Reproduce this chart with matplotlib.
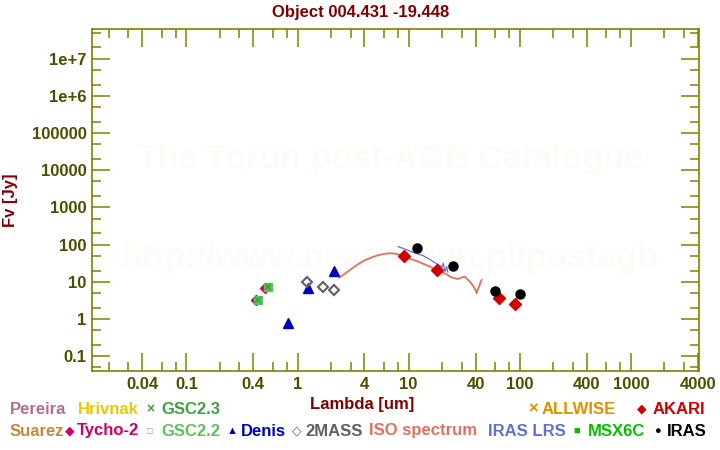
import matplotlib
matplotlib.use("Agg")
import matplotlib.pyplot as plt
from matplotlib.ticker import FixedLocator, FixedFormatter, NullFormatter

plt.rcParams['font.family'] = ['Liberation Sans', 'DejaVu Sans']
plt.rcParams['font.weight'] = 'bold'

# ---- data ----
tycho_lam = [0.42, 0.51]
tycho_f = [3.3, 6.7]
gsc22_lam = [0.436, 0.545]
gsc22_f = [3.2, 7.1]
gsc23_lam = [0.436, 0.545]
gsc23_f = [3.2, 7.1]
denis_lam = [0.82, 1.25, 2.13]
denis_f = [0.77, 6.9, 19.9]
mass2_lam = [1.22, 1.68, 2.14]
mass2_f = [9.9, 7.1, 5.9]
akari_lam = [9.0, 18.0, 65.0, 90.0]
akari_f = [49.0, 20.8, 3.6, 2.6]
iras_lam = [12.0, 25.0, 60.0, 100.0]
iras_f = [79.5, 26.6, 5.7, 4.6]

iso_lam = [2.37, 2.65, 2.96, 3.4, 3.9, 4.5, 5.15, 5.8, 6.55, 7.3, 8.06, 8.94,
           10.2, 11.8, 13.5, 15.6, 17.3, 19.1, 21.0, 22.5, 23.6, 25.5, 27.9,
           30.0, 32.1, 34.0, 35.6, 37.0, 38.7, 40.0, 40.9, 42.0, 42.9, 44.0, 45.4]
iso_f = [12.9, 16.3, 20.8, 28.0, 36.2, 43.5, 50.3, 55.0, 58.4, 57.5, 54.9, 47.3,
         41.5, 36.2, 30.5, 25.5, 21.0, 18.7, 16.9, 15.2, 13.7, 12.6, 11.9,
         13.0, 13.7, 11.5, 10.1, 8.6, 7.2, 6.0, 4.9, 6.3, 7.2, 9.0, 11.2]

lrs_lam = [8.06, 8.7, 9.4, 10.3, 11.2, 12.3, 13.5, 14.8, 15.8, 16.6, 17.8,
           19.1, 20.0, 20.5, 21.2, 21.6, 22.0, 22.5]
lrs_f = [87.8, 81.0, 74.0, 67.3, 60.0, 55.5, 50.3, 43.0, 38.5, 34.7, 31.0,
         27.1, 25.0, 31.4, 18.7, 22.0, 25.5, 18.3]

x_major = [0.04, 0.1, 0.4, 1, 4, 10, 40, 100, 400, 1000, 4000]
x_major_lbl = ['0.04', '0.1', '0.4', '1', '4', '10', '40', '100', '400', '1000', '4000']
x_minor = [0.02, 0.03, 0.06, 0.08, 0.2, 0.3, 0.6, 0.8, 2, 3, 6, 8, 20, 30, 60, 80,
           200, 300, 600, 800, 2000, 3000]
y_major = [0.1, 1, 10, 100, 1000, 10000, 100000, 1e6, 1e7]
y_major_lbl = ['0.1', '1', '10', '100', '1000', '10000', '100000', '1e+6', '1e+7']
y_minor = [0.05, 0.2, 0.5, 2, 5, 20, 50, 200, 500, 2000, 5000, 2e4, 5e4, 2e5, 5e5,
           2e6, 5e6, 2e7, 5e7]

olive = '#808000'
dark = '#4d4d00'
maroon = '#800000'

fig = plt.figure(figsize=(7.2, 4.5), dpi=100)
ax = fig.add_axes([92.3 / 720, 1 - 371 / 450, (699.3 - 92.3) / 720, (371 - 29.3) / 450])
ax.set_xscale('log')
ax.set_yscale('log')
ax.set_xlim(0.0142, 4130)
ax.set_ylim(0.04, 6.1e7)

# watermark
ax.text(0.49, 0.62, 'The Torun post-AGB Catalogue', transform=ax.transAxes,
        ha='center', va='center', fontsize=24.5, color='#fdfbf6', zorder=0)
ax.text(0.49, 0.33, 'http://www.ncac.torun.pl/postagb', transform=ax.transAxes,
        ha='center', va='center', fontsize=24.5, color='#fdfbf6', zorder=0)

ax.plot(iso_lam, iso_f, color='#e07060', lw=1.3, zorder=2)
ax.plot(lrs_lam, lrs_f, color='#6070d0', lw=0.9, zorder=3)
ax.plot(tycho_lam, tycho_f, 'D', color='#cc0066', ms=5, zorder=3)
ax.plot(gsc22_lam, gsc22_f, 's', color='#60c060', ms=6, zorder=4)
ax.plot(gsc23_lam, gsc23_f, 'x', color='#40a040', ms=4, mew=1.2, zorder=5)
ax.plot(denis_lam, denis_f, '^', color='#0000c0', ms=6.5, zorder=4)
ax.plot(mass2_lam, mass2_f, 'D', mfc='none', mec='#606060', mew=1.5, ms=5.5, zorder=4)
ax.plot(akari_lam, akari_f, 'D', color='#d00000', ms=6, zorder=5)
ax.plot(iras_lam, iras_f, 'o', color='black', ms=6.5, zorder=5)

ax.xaxis.set_major_locator(FixedLocator(x_major))
ax.xaxis.set_major_formatter(FixedFormatter(x_major_lbl))
ax.xaxis.set_minor_locator(FixedLocator(x_minor))
ax.xaxis.set_minor_formatter(NullFormatter())
ax.yaxis.set_major_locator(FixedLocator(y_major))
ax.yaxis.set_major_formatter(FixedFormatter(y_major_lbl))
ax.yaxis.set_minor_locator(FixedLocator(y_minor))
ax.yaxis.set_minor_formatter(NullFormatter())

ax.tick_params(which='both', direction='in', top=True, right=True, color=olive, width=1.1)
ax.tick_params(which='major', length=13, labelsize=12, labelcolor=dark, pad=4)
ax.tick_params(which='minor', length=6.5)
for s in ax.spines.values():
    s.set_color(olive)
    s.set_linewidth(1.2)

fig.text(361 / 720, 1 - 12 / 450, 'Object 004.431 -19.448', ha='center', va='center',
         fontsize=12, color=maroon)
fig.text(362 / 720, 1 - 404 / 450, 'Lambda [um]', ha='center', va='center',
         fontsize=12, color=maroon)
fig.text(10 / 720, 1 - 200 / 450, 'Fv [Jy]', ha='center', va='center', rotation=90,
         fontsize=12, color=maroon)

# legend rows (text and glyph labels)
legend_items = [
    # x, y, text, color, size
    (10, 409, 'Pereira', '#b07090', 12),
    (78, 409, 'Hrivnak', '#e8c800', 12),
    (146, 409, '×', '#40a040', 10),
    (161, 409, 'GSC2.3', '#40a040', 12),
    (528, 409, '×', '#e09000', 12),
    (542, 409, 'ALLWISE', '#e09000', 12),
    (637, 409, '◆', '#d00000', 9),
    (653, 409, 'AKARI', '#d00000', 12),
    (10, 431, 'Suarez', '#c08840', 12),
    (65, 431, '◆', '#cc0066', 9),
    (77, 431, 'Tycho-2', '#cc0066', 12),
    (147, 431, '□', '#60c060', 7),
    (161, 431, 'GSC2.2', '#60c060', 12),
    (227, 431, '▲', '#0000c0', 8),
    (241, 431, 'Denis', '#0000c0', 12),
    (292, 431, '◇', '#606060', 9),
    (305, 431, '2MASS', '#606060', 12),
    (369, 431, 'ISO spectrum', '#e07060', 12),
    (488, 431, 'IRAS LRS', '#6070d0', 12),
    (573, 431, '■', '#00c000', 8),
    (588, 431, 'MSX6C', '#00c000', 12),
    (654, 431, '●', 'black', 8),
    (667, 431, 'IRAS', 'black', 12),
]
for x, y, t, c, s in legend_items:
    fig.text(x / 720, 1 - y / 450, t, ha='left', va='center', fontsize=s, color=c)

fig.savefig('out.png', dpi=100)
